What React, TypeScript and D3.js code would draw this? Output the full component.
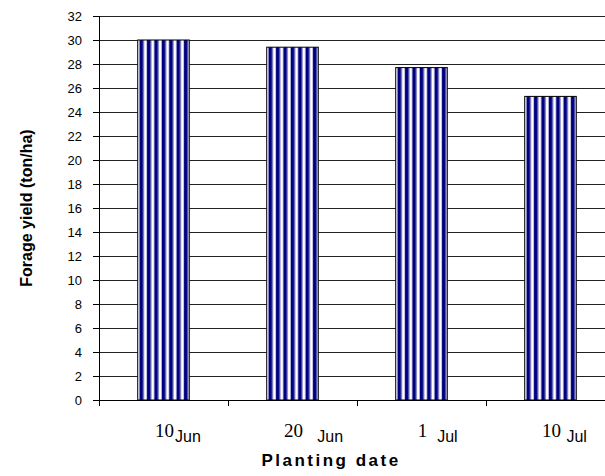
import React from "react";
import * as d3 from "d3";

// Forage yield by planting date
const dayLabels = ["10", "20", "1", "10"];
const monthLabels = ["Jun", "   Jun", "  Jul", " Jul"];
const yieldValues = [30, 29.4, 27.7, 25.3];
const yTicks = d3.range(0, 33, 2);

const W = 605;
const H = 476;
const plotLeft = 99;
const plotRight = 615;
const plotTop = 16;
const plotBottom = 400;

const sans = "Arial, 'Liberation Sans', Helvetica, sans-serif";
const serif = "'Times New Roman', 'Liberation Serif', Times, serif";

export default function App() {
  const keys = dayLabels.map((d, i) => `${d}-${i}`);
  const x = d3.scaleBand<string>().domain(keys).range([plotLeft, plotRight]).padding(0);
  const y = d3.scaleLinear().domain([0, 32]).range([plotBottom, plotTop]);
  const bw = x.bandwidth();
  const barW = bw / 2.5; // gap width 150%
  const numSize = 19;
  const period = 7.4;

  return (
    <svg
      width={W}
      height={H}
      viewBox={`0 0 ${W} ${H}`}
      style={{ position: "absolute", left: 0, top: 0, background: "#fff" }}
    >
      <defs>
        {keys.map((k, i) => {
          const bx = (x(k) as number) + (bw - barW) / 2;
          return (
            <pattern
              key={k}
              id={`stripe-${i}`}
              patternUnits="userSpaceOnUse"
              x={bx + 2}
              y={0}
              width={period}
              height={10}
            >
              <rect x={0} y={0} width={period} height={10} fill="#ffffff" />
              <rect x={0} y={0} width={3.5} height={10} fill="#000080" />
              <rect x={3.5} y={0} width={0.9} height={10} fill="#7a7abc" />
              <rect x={period - 0.9} y={0} width={0.9} height={10} fill="#b8b8dc" />
            </pattern>
          );
        })}
      </defs>

      {/* horizontal gridlines */}
      {yTicks
        .filter((t) => t > 0)
        .map((t) => (
          <line
            key={`g${t}`}
            x1={plotLeft}
            x2={plotRight}
            y1={y(t)}
            y2={y(t)}
            stroke="#222"
            strokeWidth={1}
            shapeRendering="crispEdges"
          />
        ))}

      {/* bars */}
      {keys.map((k, i) => {
        const bx = (x(k) as number) + (bw - barW) / 2;
        return (
          <rect
            key={k}
            x={bx}
            y={y(yieldValues[i])}
            width={barW}
            height={plotBottom - y(yieldValues[i])}
            fill={`url(#stripe-${i})`}
            stroke="#000"
            strokeWidth={1}
          />
        );
      })}

      {/* y axis */}
      <line x1={plotLeft} x2={plotLeft} y1={plotTop} y2={plotBottom} stroke="#000" shapeRendering="crispEdges" />
      {yTicks.map((t) => (
        <g key={`yt${t}`}>
          <line x1={plotLeft - 6} x2={plotLeft} y1={y(t)} y2={y(t)} stroke="#000" shapeRendering="crispEdges" />
          <text
            x={plotLeft - 17}
            y={y(t)}
            dy="0.36em"
            textAnchor="end"
            fontFamily={sans}
            fontSize={13}
            fill="#000"
          >
            {t}
          </text>
        </g>
      ))}

      {/* x axis */}
      <line x1={plotLeft} x2={plotRight} y1={plotBottom} y2={plotBottom} stroke="#000" shapeRendering="crispEdges" />
      {[...keys.map((k) => x(k) as number), plotRight].map((v, i) => (
        <line
          key={`xt${i}`}
          x1={v}
          x2={v}
          y1={plotBottom}
          y2={plotBottom + 6}
          stroke="#000"
          shapeRendering="crispEdges"
        />
      ))}

      {keys.map((k, i) => {
        const cx = (x(k) as number) + bw / 2 + 1;
        const numW = dayLabels[i].length * 0.5 * numSize;
        return (
          <g key={`xl${k}`}>
            <text x={cx} y={437} textAnchor="middle" fontFamily={serif} fontSize={numSize} fill="#000">
              {dayLabels[i]}
            </text>
            <text
              x={cx + numW / 2 + 1}
              y={442}
              fontFamily={sans}
              fontSize={16}
              fill="#000"
              style={{ whiteSpace: "pre" }}
            >
              {monthLabels[i]}
            </text>
          </g>
        );
      })}

      {/* axis titles */}
      <text
        x={331}
        y={466}
        textAnchor="middle"
        fontFamily={sans}
        fontWeight="bold"
        fontSize={17}
        letterSpacing={2.5}
        fill="#000"
      >
        Planting date
      </text>
      <text
        transform={`translate(26, ${(plotTop + plotBottom) / 2}) rotate(-90)`}
        textAnchor="middle"
        dominantBaseline="central"
        fontFamily={sans}
        fontWeight="bold"
        fontSize={16}
        fill="#000"
      >
        Forage yield (ton/ha)
      </text>
    </svg>
  );
}
